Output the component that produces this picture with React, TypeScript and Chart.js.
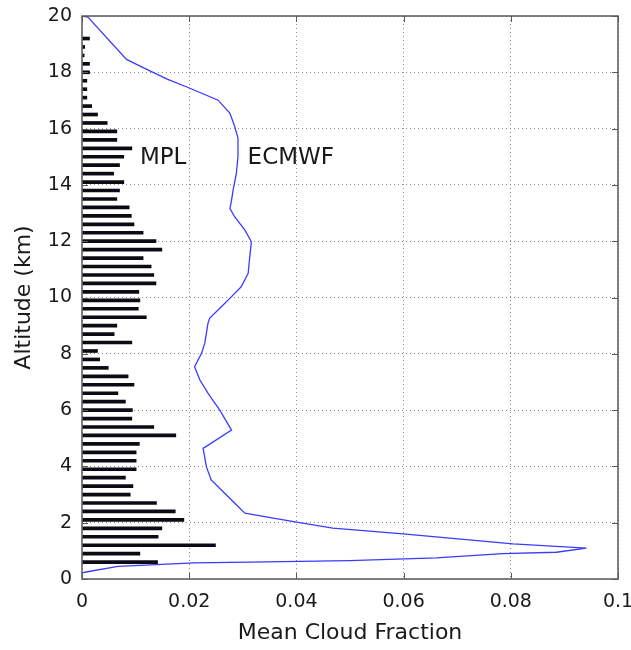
import React, { useEffect, useRef } from 'react';
import { Chart, registerables } from 'chart.js';

Chart.register(...registerables);

// MPL: altitude (km) of each bar and its mean cloud fraction
const mplAltitude = [
  0.6, 0.9, 1.2, 1.5, 1.8, 2.1, 2.4, 2.7, 3.0, 3.3, 3.6, 3.9, 4.2, 4.5, 4.8, 5.1,
  5.4, 5.7, 6.0, 6.3, 6.6, 6.9, 7.2, 7.5, 7.8, 8.1, 8.4, 8.7, 9.0, 9.3, 9.6, 9.9,
  10.2, 10.5, 10.8, 11.1, 11.4, 11.7, 12.0, 12.3, 12.6, 12.9, 13.2, 13.5, 13.8,
  14.1, 14.4, 14.7, 15.0, 15.3, 15.6, 15.9, 16.2, 16.5, 16.8, 17.1, 17.4, 17.7,
  18.0, 18.3, 18.6, 18.9, 19.2,
];
const mplFraction = [
  0.0141, 0.0108, 0.0249, 0.0142, 0.0149, 0.019, 0.0174, 0.0139, 0.009, 0.0095,
  0.0081, 0.0101, 0.0101, 0.0101, 0.0107, 0.0175, 0.0134, 0.0093, 0.0094, 0.0081,
  0.0067, 0.0097, 0.0086, 0.0049, 0.0033, 0.0029, 0.0093, 0.006, 0.0065, 0.012,
  0.0105, 0.0108, 0.0106, 0.0138, 0.0134, 0.0129, 0.0114, 0.0149, 0.0138, 0.0114,
  0.0097, 0.0092, 0.0088, 0.0065, 0.007, 0.0078, 0.0059, 0.007, 0.0078, 0.0093,
  0.0065, 0.0065, 0.0047, 0.0029, 0.0018, 0.0009, 0.0009, 0.0009, 0.0014, 0.0014,
  0.0004, 0.0005, 0.0014,
];

// ECMWF profile (traced from top to bottom)
const ecmwfFraction = [
  0, 0.0011, 0.0083, 0.0117, 0.016, 0.0198, 0.0254, 0.0276, 0.0285, 0.0291,
  0.0291, 0.0288, 0.0282, 0.0279, 0.0276, 0.0285, 0.0304, 0.0316, 0.0313, 0.031,
  0.0297, 0.0279, 0.026, 0.0238, 0.0235, 0.0229, 0.0223, 0.021, 0.022, 0.0235,
  0.0257, 0.0279, 0.0226, 0.0232, 0.0241, 0.026, 0.0285, 0.0304, 0.0322, 0.0403,
  0.0468, 0.0599, 0.0804, 0.0941, 0.0885, 0.0785, 0.0661, 0.0499, 0.0313, 0.021,
  0.0067, 0.0005, 0,
];
const ecmwfAltitude = [
  20, 19.96, 18.46, 18.14, 17.75, 17.46, 17.01, 16.54, 16.07, 15.66,
  15.0, 14.41, 13.82, 13.46, 13.16, 12.86, 12.39, 11.98, 11.45, 10.86,
  10.38, 10.03, 9.67, 9.26, 9.08, 8.37, 8.02, 7.54, 7.07, 6.6,
  6.0, 5.29, 4.64, 3.99, 3.52, 3.16, 2.69, 2.34, 2.28, 2.01,
  1.81, 1.6, 1.25, 1.1, 0.95, 0.9, 0.75, 0.65, 0.6, 0.57,
  0.45, 0.24, 0.21,
];

const xTicks = [0, 0.02, 0.04, 0.06, 0.08, 0.1];
const xTickLabels = ['0', '0.02', '0.04', '0.06', '0.08', '0.1'];
const yTicks = [0, 2, 4, 6, 8, 10, 12, 14, 16, 18, 20];
const yTickLabels = ['0', '2', '4', '6', '8', '10', '12', '14', '16', '18', '20'];

const seriesLabels = ['MPL', 'ECMWF'];
const seriesLabelX = [0.0108, 0.0309];
const seriesLabelY = [14.95, 14.95];

const FONT = '"DejaVu Sans", "Liberation Sans", Arial, sans-serif';
const TEXT = '#1a1a1a';

const framePlugin = {
  id: 'matlabFrame',
  afterDatasetsDraw(chart: any) {
    const { ctx, chartArea, scales } = chart;
    const { left, right, top, bottom } = chartArea;
    const x = scales.x;
    const y = scales.y;
    ctx.save();
    ctx.strokeStyle = '#5a5a5a';
    ctx.lineWidth = 1.5;
    ctx.strokeRect(left, top, right - left, bottom - top);
    ctx.beginPath();
    ctx.lineWidth = 1;
    xTicks.forEach((v) => {
      const px = Math.round(x.getPixelForValue(v)) + 0.5;
      ctx.moveTo(px, bottom);
      ctx.lineTo(px, bottom - 6);
      ctx.moveTo(px, top);
      ctx.lineTo(px, top + 6);
    });
    yTicks.forEach((v) => {
      const py = Math.round(y.getPixelForValue(v)) + 0.5;
      ctx.moveTo(left, py);
      ctx.lineTo(left + 6, py);
      ctx.moveTo(right, py);
      ctx.lineTo(right - 6, py);
    });
    ctx.stroke();
    ctx.fillStyle = TEXT;
    ctx.font = `23px ${FONT}`;
    ctx.textAlign = 'left';
    ctx.textBaseline = 'middle';
    seriesLabels.forEach((t, i) => {
      ctx.fillText(t, x.getPixelForValue(seriesLabelX[i]), y.getPixelForValue(seriesLabelY[i]));
    });
    ctx.restore();
  },
};

export default function App() {
  const ref = useRef<HTMLCanvasElement | null>(null);

  useEffect(() => {
    if (!ref.current) return;
    const chart = new Chart(ref.current, {
      type: 'bar',
      data: {
        datasets: [
          {
            type: 'bar',
            label: 'MPL',
            indexAxis: 'y',
            data: mplAltitude.map((a, i) => ({ x: mplFraction[i], y: a })),
            backgroundColor: '#0b0b16',
            borderWidth: 0,
            barThickness: 3,
            order: 2,
          } as any,
          {
            type: 'scatter',
            label: 'ECMWF',
            data: ecmwfAltitude.map((a, i) => ({ x: ecmwfFraction[i], y: a })),
            showLine: true,
            borderColor: '#3b3bff',
            borderWidth: 1.3,
            pointRadius: 0,
            fill: false,
            order: 1,
          } as any,
        ],
      },
      options: {
        animation: false,
        responsive: true,
        maintainAspectRatio: false,
        layout: { padding: { top: 16, right: 13, left: 0, bottom: 0 } },
        plugins: {
          legend: { display: false },
          tooltip: { enabled: false },
        },
        scales: {
          x: {
            type: 'linear',
            position: 'bottom',
            min: 0,
            max: 0.1,
            offset: false,
            afterBuildTicks: (s: any) => {
              s.ticks = xTicks.map((v) => ({ value: v }));
            },
            afterFit: (s: any) => {
              s.height = 71;
              s.paddingLeft = 0;
              s.paddingRight = 0;
              s.paddingTop = 0;
              s.paddingBottom = 0;
            },
            ticks: {
              color: TEXT,
              font: { family: FONT, size: 19 },
              padding: 12,
              maxRotation: 0,
              callback: (_v: any, i: number) => xTickLabels[i],
            },
            grid: { color: '#8c8c8c', lineWidth: 1, drawTicks: false, offset: false },
            border: { display: false, dash: [1, 3] },
            title: {
              display: true,
              text: 'Mean Cloud Fraction',
              color: TEXT,
              font: { family: FONT, size: 22 },
              padding: { top: 0, bottom: 4 },
            },
          },
          y: {
            type: 'linear',
            position: 'left',
            min: 0,
            max: 20,
            offset: false,
            afterBuildTicks: (s: any) => {
              s.ticks = yTicks.map((v) => ({ value: v }));
            },
            afterFit: (s: any) => {
              s.width = 82;
              s.paddingLeft = 0;
              s.paddingRight = 0;
              s.paddingTop = 0;
              s.paddingBottom = 0;
            },
            ticks: {
              color: TEXT,
              font: { family: FONT, size: 19 },
              padding: 10,
              callback: (_v: any, i: number) => yTickLabels[i],
            },
            grid: { color: '#8c8c8c', lineWidth: 1, drawTicks: false, offset: false },
            border: { display: false, dash: [1, 3] },
            title: {
              display: true,
              text: 'Altitude (km)',
              color: TEXT,
              font: { family: FONT, size: 22 },
              padding: { top: 11, bottom: 0 },
            },
          },
        },
      } as any,
      plugins: [framePlugin],
    });
    return () => chart.destroy();
  }, []);

  return (
    <div style={{ position: 'absolute', left: 0, top: 0, width: 631, height: 650, background: '#fff' }}>
      <canvas ref={ref} />
    </div>
  );
}
